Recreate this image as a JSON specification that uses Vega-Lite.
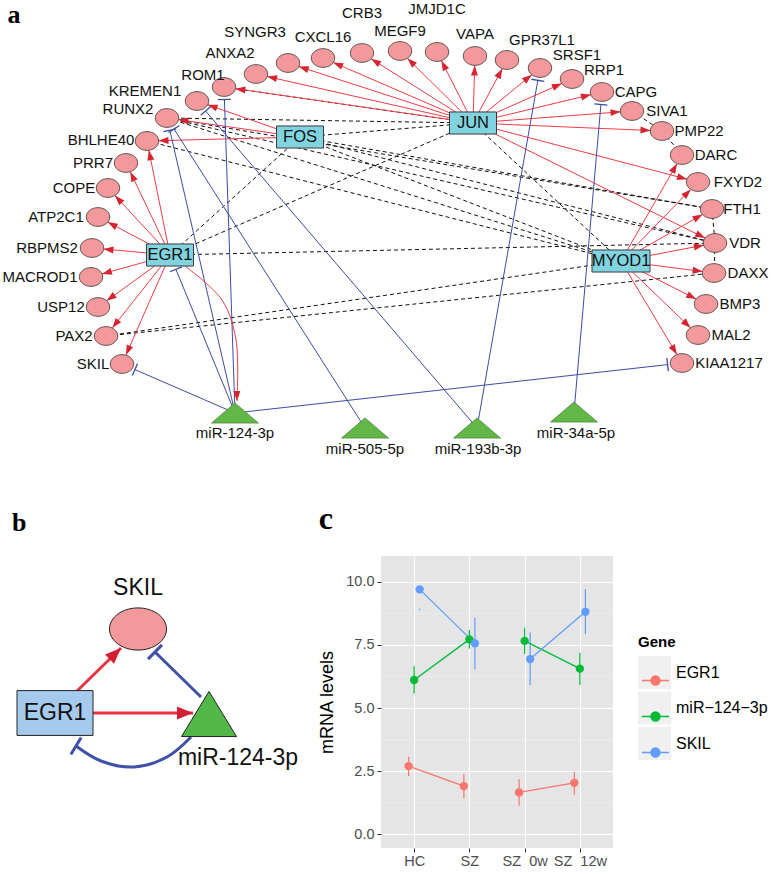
{
  "$schema": "https://vega.github.io/schema/vega-lite/v6.json",
  "padding": 0,
  "background": "white",
  "bounds": "flush",
  "spacing": 91,
  "resolve": {"scale": {"color": "independent", "fill": "independent", "stroke": "independent"}, "legend": {"color": "independent", "fill": "independent", "stroke": "independent"}},
  "config": {
    "view": {"stroke": null}
  },
  "datasets": {
    "nodes": [
      {"name":"KREMEN1","kind":"gene","x":197,"y":101,"lx":145,"ly":91},
      {"name":"ROM1","kind":"gene","x":224,"y":87,"lx":203,"ly":75},
      {"name":"ANXA2","kind":"gene","x":256,"y":74,"lx":230,"ly":53},
      {"name":"SYNGR3","kind":"gene","x":288,"y":63,"lx":255,"ly":32},
      {"name":"CXCL16","kind":"gene","x":323,"y":58,"lx":323,"ly":37},
      {"name":"CRB3","kind":"gene","x":362,"y":53,"lx":362,"ly":13},
      {"name":"MEGF9","kind":"gene","x":400,"y":51,"lx":400,"ly":31},
      {"name":"JMJD1C","kind":"gene","x":437,"y":52,"lx":437,"ly":9},
      {"name":"VAPA","kind":"gene","x":475,"y":56,"lx":475,"ly":34},
      {"name":"GPR37L1","kind":"gene","x":507,"y":60,"lx":542,"ly":40},
      {"name":"SRSF1","kind":"gene","x":540,"y":68,"lx":577,"ly":55},
      {"name":"RRP1","kind":"gene","x":572,"y":79,"lx":604,"ly":70},
      {"name":"CAPG","kind":"gene","x":602,"y":92,"lx":636,"ly":92},
      {"name":"SIVA1","kind":"gene","x":632,"y":111,"lx":667,"ly":111},
      {"name":"PMP22","kind":"gene","x":662,"y":131,"lx":699,"ly":131},
      {"name":"DARC","kind":"gene","x":682,"y":155,"lx":716,"ly":155},
      {"name":"FXYD2","kind":"gene","x":698,"y":182,"lx":738,"ly":182},
      {"name":"FTH1","kind":"gene","x":712,"y":209,"lx":742,"ly":209},
      {"name":"VDR","kind":"gene","x":715,"y":243,"lx":745,"ly":243},
      {"name":"DAXX","kind":"gene","x":714,"y":273,"lx":748,"ly":273},
      {"name":"BMP3","kind":"gene","x":706,"y":304,"lx":740,"ly":304},
      {"name":"MAL2","kind":"gene","x":698,"y":335,"lx":731,"ly":335},
      {"name":"KIAA1217","kind":"gene","x":682,"y":363,"lx":729,"ly":363},
      {"name":"RUNX2","kind":"gene","x":167,"y":118,"lx":128,"ly":109},
      {"name":"BHLHE40","kind":"gene","x":147,"y":141,"lx":101,"ly":140},
      {"name":"PRR7","kind":"gene","x":126,"y":163,"lx":93,"ly":163},
      {"name":"COPE","kind":"gene","x":108,"y":188,"lx":74,"ly":188},
      {"name":"ATP2C1","kind":"gene","x":98,"y":217,"lx":56,"ly":217},
      {"name":"RBPMS2","kind":"gene","x":92,"y":248,"lx":47,"ly":248},
      {"name":"MACROD1","kind":"gene","x":91,"y":277,"lx":40,"ly":277},
      {"name":"USP12","kind":"gene","x":98,"y":307,"lx":61,"ly":307},
      {"name":"PAX2","kind":"gene","x":106,"y":336,"lx":74,"ly":336},
      {"name":"SKIL","kind":"gene","x":122,"y":364,"lx":93,"ly":364},
      {"name":"JUN","kind":"tf","x":473,"y":123,"lx":473,"ly":123},
      {"name":"FOS","kind":"tf","x":300,"y":137,"lx":300,"ly":137},
      {"name":"EGR1","kind":"tf","x":170,"y":255,"lx":170,"ly":255},
      {"name":"MYOD1","kind":"tf","x":621,"y":261,"lx":621,"ly":261},
      {"name":"miR-124-3p","kind":"mirna","x":235,"y":413,"lx":235,"ly":433},
      {"name":"miR-505-5p","kind":"mirna","x":365,"y":428,"lx":365,"ly":449},
      {"name":"miR-193b-3p","kind":"mirna","x":477,"y":428,"lx":478,"ly":449},
      {"name":"miR-34a-5p","kind":"mirna","x":574,"y":412,"lx":576,"ly":433}
    ],
    "edges": [
      {"source":"JUN","target":"ROM1","type":"activation"},
      {"source":"JUN","target":"ANXA2","type":"activation"},
      {"source":"JUN","target":"SYNGR3","type":"activation"},
      {"source":"JUN","target":"CXCL16","type":"activation"},
      {"source":"JUN","target":"CRB3","type":"activation"},
      {"source":"JUN","target":"MEGF9","type":"activation"},
      {"source":"JUN","target":"JMJD1C","type":"activation"},
      {"source":"JUN","target":"VAPA","type":"activation"},
      {"source":"JUN","target":"GPR37L1","type":"activation"},
      {"source":"JUN","target":"SRSF1","type":"activation"},
      {"source":"JUN","target":"RRP1","type":"activation"},
      {"source":"JUN","target":"CAPG","type":"activation"},
      {"source":"JUN","target":"SIVA1","type":"activation"},
      {"source":"JUN","target":"PMP22","type":"activation"},
      {"source":"JUN","target":"FXYD2","type":"activation"},
      {"source":"JUN","target":"VDR","type":"activation"},
      {"source":"FOS","target":"KREMEN1","type":"activation"},
      {"source":"FOS","target":"RUNX2","type":"activation"},
      {"source":"FOS","target":"BHLHE40","type":"activation"},
      {"source":"EGR1","target":"BHLHE40","type":"activation"},
      {"source":"EGR1","target":"PRR7","type":"activation"},
      {"source":"EGR1","target":"COPE","type":"activation"},
      {"source":"EGR1","target":"ATP2C1","type":"activation"},
      {"source":"EGR1","target":"RBPMS2","type":"activation"},
      {"source":"EGR1","target":"MACROD1","type":"activation"},
      {"source":"EGR1","target":"USP12","type":"activation"},
      {"source":"EGR1","target":"PAX2","type":"activation"},
      {"source":"EGR1","target":"SKIL","type":"activation"},
      {"source":"MYOD1","target":"DARC","type":"activation"},
      {"source":"MYOD1","target":"FXYD2","type":"activation"},
      {"source":"MYOD1","target":"FTH1","type":"activation"},
      {"source":"MYOD1","target":"VDR","type":"activation"},
      {"source":"MYOD1","target":"DAXX","type":"activation"},
      {"source":"MYOD1","target":"BMP3","type":"activation"},
      {"source":"MYOD1","target":"MAL2","type":"activation"},
      {"source":"MYOD1","target":"KIAA1217","type":"activation"},
      {"source":"miR-124-3p","target":"SKIL","type":"inhibition"},
      {"source":"miR-124-3p","target":"EGR1","type":"inhibition"},
      {"source":"miR-124-3p","target":"RUNX2","type":"inhibition"},
      {"source":"miR-124-3p","target":"ROM1","type":"inhibition"},
      {"source":"miR-124-3p","target":"KIAA1217","type":"inhibition"},
      {"source":"miR-505-5p","target":"RUNX2","type":"inhibition"},
      {"source":"miR-193b-3p","target":"KREMEN1","type":"inhibition"},
      {"source":"miR-193b-3p","target":"SRSF1","type":"inhibition"},
      {"source":"miR-34a-5p","target":"CAPG","type":"inhibition"},
      {"source":"RUNX2","target":"JUN","type":"interaction"},
      {"source":"RUNX2","target":"FTH1","type":"interaction"},
      {"source":"RUNX2","target":"VDR","type":"interaction"},
      {"source":"RUNX2","target":"MYOD1","type":"interaction"},
      {"source":"BHLHE40","target":"MYOD1","type":"interaction"},
      {"source":"ROM1","target":"JUN","type":"interaction"},
      {"source":"FOS","target":"JUN","type":"interaction"},
      {"source":"FOS","target":"FTH1","type":"interaction"},
      {"source":"FOS","target":"VDR","type":"interaction"},
      {"source":"FOS","target":"MYOD1","type":"interaction"},
      {"source":"EGR1","target":"FOS","type":"interaction"},
      {"source":"EGR1","target":"JUN","type":"interaction"},
      {"source":"EGR1","target":"VDR","type":"interaction"},
      {"source":"PAX2","target":"MYOD1","type":"interaction"},
      {"source":"PAX2","target":"DAXX","type":"interaction"},
      {"source":"JUN","target":"MYOD1","type":"interaction"},
      {"source":"FTH1","target":"VDR","type":"interaction"},
      {"source":"VDR","target":"DAXX","type":"interaction"},
      {"source":"SIVA1","target":"PMP22","type":"interaction"},
      {"source":"PMP22","target":"DARC","type":"interaction"}
    ],
    "curveA": [
      {"edge":"EGR1-miR-124-3p","step":1,"x":185,"y":266},
      {"edge":"EGR1-miR-124-3p","step":2,"x":222,"y":300},
      {"edge":"EGR1-miR-124-3p","step":3,"x":236,"y":340},
      {"edge":"EGR1-miR-124-3p","step":4,"x":237,"y":401}
    ],
    "panelA": [{"panel":"a","x":14,"y":23}],
    "nodesB": [
      {"name":"SKIL","kind":"gene","x":138,"y":629,"lx":138,"ly":588},
      {"name":"EGR1","kind":"tf","x":55,"y":713,"lx":55,"ly":713},
      {"name":"miR-124-3p","kind":"mirna","x":209,"y":714,"lx":238,"ly":758}
    ],
    "linesB": [
      {"edge":"EGR1-SKIL","type":"activation","step":1,"x":77,"y":691},
      {"edge":"EGR1-SKIL","type":"activation","step":2,"x":121,"y":648},
      {"edge":"EGR1-miR","type":"activation","step":1,"x":93,"y":713},
      {"edge":"EGR1-miR","type":"activation","step":2,"x":193,"y":713},
      {"edge":"miR-SKIL","type":"inhibition","step":1,"x":201,"y":697},
      {"edge":"miR-SKIL","type":"inhibition","step":2,"x":155,"y":652},
      {"edge":"miR-EGR1","type":"inhibition","step":1,"x":191,"y":737},
      {"edge":"miR-EGR1","type":"inhibition","step":2,"x":167,"y":757},
      {"edge":"miR-EGR1","type":"inhibition","step":3,"x":134,"y":767},
      {"edge":"miR-EGR1","type":"inhibition","step":4,"x":101,"y":761},
      {"edge":"miR-EGR1","type":"inhibition","step":5,"x":76,"y":746}
    ],
    "expr": [
      {"group":"HC","gene":"EGR1","study":"HC vs SZ","mean":2.70,"lo":2.31,"hi":3.07},
      {"group":"SZ","gene":"EGR1","study":"HC vs SZ","mean":1.91,"lo":1.42,"hi":2.39},
      {"group":"SZ_0w","gene":"EGR1","study":"SZ treatment","mean":1.66,"lo":1.13,"hi":2.18},
      {"group":"SZ_12w","gene":"EGR1","study":"SZ treatment","mean":2.04,"lo":1.57,"hi":2.48},
      {"group":"HC","gene":"miR-124-3p","study":"HC vs SZ","mean":6.11,"lo":5.58,"hi":6.66},
      {"group":"SZ","gene":"miR-124-3p","study":"HC vs SZ","mean":7.72,"lo":7.36,"hi":8.09},
      {"group":"SZ_0w","gene":"miR-124-3p","study":"SZ treatment","mean":7.66,"lo":7.14,"hi":8.18},
      {"group":"SZ_12w","gene":"miR-124-3p","study":"SZ treatment","mean":6.56,"lo":5.91,"hi":7.19},
      {"group":"HC","gene":"SKIL","study":"HC vs SZ","mean":9.70,"lo":8.87,"hi":8.93},
      {"group":"SZ","gene":"SKIL","study":"HC vs SZ","mean":7.56,"lo":6.54,"hi":8.59},
      {"group":"SZ_0w","gene":"SKIL","study":"SZ treatment","mean":6.94,"lo":5.91,"hi":7.99},
      {"group":"SZ_12w","gene":"SKIL","study":"SZ treatment","mean":8.81,"lo":7.93,"hi":9.70}
    ]
  },
  "vconcat": [
    {
      "width": 771,
      "height": 465,
      "layer": [
        {
          "data": {"name": "edges"},
          "transform": [
            {"filter": "datum.type == 'interaction'"},
            {"lookup": "source", "from": {"data": {"name": "nodes"}, "key": "name", "fields": ["x", "y"]}, "as": ["sx", "sy"]},
            {"lookup": "target", "from": {"data": {"name": "nodes"}, "key": "name", "fields": ["x", "y"]}, "as": ["tx", "ty"]}
          ],
          "mark": {"type": "rule", "color": "#111111", "strokeWidth": 1, "strokeDash": [4, 3]},
          "encoding": {
            "x": {"field": "sx", "type": "quantitative", "scale": {"domain": [0, 771], "nice": false, "zero": false}, "axis": null},
            "y": {"field": "sy", "type": "quantitative", "scale": {"domain": [0, 465], "nice": false, "zero": false, "reverse": true}, "axis": null},
            "x2": {"field": "tx"},
            "y2": {"field": "ty"}
          }
        },
        {
          "data": {"name": "edges"},
          "transform": [
            {"filter": "datum.type != 'interaction'"},
            {"lookup": "source", "from": {"data": {"name": "nodes"}, "key": "name", "fields": ["x", "y", "kind"]}, "as": ["sx", "sy", "skind"]},
            {"lookup": "target", "from": {"data": {"name": "nodes"}, "key": "name", "fields": ["x", "y", "kind"]}, "as": ["tx", "ty", "tkind"]},
            {"calculate": "datum.tx - datum.sx", "as": "dx"},
            {"calculate": "datum.ty - datum.sy", "as": "dy"},
            {"calculate": "sqrt(datum.dx * datum.dx + datum.dy * datum.dy)", "as": "len"},
            {"calculate": "datum.dx / datum.len", "as": "ux"},
            {"calculate": "datum.dy / datum.len", "as": "uy"},
            {"calculate": "datum.tkind == 'gene' ? 1 / sqrt(pow(datum.ux / 11.5, 2) + pow(datum.uy / 9.5, 2)) : min(23.5 / max(abs(datum.ux), 0.001), 11.5 / max(abs(datum.uy), 0.001))", "as": "r"},
            {"calculate": "datum.type == 'activation' ? datum.tx - datum.ux * datum.r : datum.tx - datum.ux * (datum.r + 3)", "as": "ex"},
            {"calculate": "datum.type == 'activation' ? datum.ty - datum.uy * datum.r : datum.ty - datum.uy * (datum.r + 3)", "as": "ey"}
          ],
          "mark": {"type": "rule", "strokeWidth": 1},
          "encoding": {
            "x": {"field": "sx", "type": "quantitative", "scale": {"domain": [0, 771], "nice": false, "zero": false}, "axis": null},
            "y": {"field": "sy", "type": "quantitative", "scale": {"domain": [0, 465], "nice": false, "zero": false, "reverse": true}, "axis": null},
            "x2": {"field": "ex"},
            "y2": {"field": "ey"},
            "color": {"condition": {"test": "datum.type == 'activation'", "value": "#EF3B46"}, "value": "#3B4CA8"}
          }
        },
        {
          "data": {"name": "curveA"},
          "mark": {"type": "line", "color": "#EF3B46", "strokeWidth": 1, "interpolate": "catmull-rom"},
          "encoding": {
            "x": {"field": "x", "type": "quantitative", "scale": {"domain": [0, 771], "nice": false, "zero": false}, "axis": null},
            "y": {"field": "y", "type": "quantitative", "scale": {"domain": [0, 465], "nice": false, "zero": false, "reverse": true}, "axis": null},
            "order": {"field": "step"},
            "detail": {"field": "edge"}
          }
        },
        {
          "data": {"name": "edges"},
          "transform": [
            {"filter": "datum.type != 'interaction'"},
            {"lookup": "source", "from": {"data": {"name": "nodes"}, "key": "name", "fields": ["x", "y"]}, "as": ["sx", "sy"]},
            {"lookup": "target", "from": {"data": {"name": "nodes"}, "key": "name", "fields": ["x", "y", "kind"]}, "as": ["tx", "ty", "tkind"]},
            {"calculate": "datum.tx - datum.sx", "as": "dx"},
            {"calculate": "datum.ty - datum.sy", "as": "dy"},
            {"calculate": "sqrt(datum.dx * datum.dx + datum.dy * datum.dy)", "as": "len"},
            {"calculate": "datum.dx / datum.len", "as": "ux"},
            {"calculate": "datum.dy / datum.len", "as": "uy"},
            {"calculate": "datum.tkind == 'gene' ? 1 / sqrt(pow(datum.ux / 11.5, 2) + pow(datum.uy / 9.5, 2)) : min(23.5 / max(abs(datum.ux), 0.001), 11.5 / max(abs(datum.uy), 0.001))", "as": "r"},
            {"calculate": "datum.type == 'activation' ? datum.tx - datum.ux * (datum.r + 5) : datum.tx - datum.ux * (datum.r + 3)", "as": "mx"},
            {"calculate": "datum.type == 'activation' ? datum.ty - datum.uy * (datum.r + 5) : datum.ty - datum.uy * (datum.r + 3)", "as": "my"},
            {"calculate": "atan2(datum.ux, -datum.uy) * 180 / PI", "as": "angle"}
          ],
          "mark": {"type": "point", "opacity": 1, "strokeWidth": 1.3},
          "encoding": {
            "x": {"field": "mx", "type": "quantitative", "scale": {"domain": [0, 771], "nice": false, "zero": false}, "axis": null},
            "y": {"field": "my", "type": "quantitative", "scale": {"domain": [0, 465], "nice": false, "zero": false, "reverse": true}, "axis": null},
            "angle": {"field": "angle", "type": "quantitative", "scale": null},
            "shape": {"condition": {"test": "datum.type == 'activation'", "value": "M0,-1L0.7,1L-0.7,1Z"}, "value": "M-1,0L1,0"},
            "size": {"condition": {"test": "datum.type == 'activation'", "value": 100}, "value": 169},
            "fill": {"condition": {"test": "datum.type == 'activation'", "value": "#D62430"}, "value": "transparent"},
            "stroke": {"condition": {"test": "datum.type == 'activation'", "value": "transparent"}, "value": "#3B4CA8"}
          }
        },
        {
          "data": {"name": "curveA"},
          "transform": [
            {"window": [{"op": "lag", "field": "x", "as": "px"}, {"op": "lag", "field": "y", "as": "py"}], "sort": [{"field": "step"}], "groupby": ["edge"]},
            {"joinaggregate": [{"op": "max", "field": "step", "as": "last"}], "groupby": ["edge"]},
            {"filter": "datum.step == datum.last"},
            {"calculate": "sqrt(pow(datum.x - datum.px, 2) + pow(datum.y - datum.py, 2))", "as": "len"},
            {"calculate": "(datum.x - datum.px) / datum.len", "as": "ux"},
            {"calculate": "(datum.y - datum.py) / datum.len", "as": "uy"},
            {"calculate": "datum.x - 5 * datum.ux", "as": "mx"},
            {"calculate": "datum.y - 5 * datum.uy", "as": "my"},
            {"calculate": "atan2(datum.ux, -datum.uy) * 180 / PI", "as": "angle"}
          ],
          "mark": {"type": "point", "shape": "M0,-1L0.7,1L-0.7,1Z", "size": 100, "filled": true, "color": "#D62430", "opacity": 1},
          "encoding": {
            "x": {"field": "mx", "type": "quantitative", "scale": {"domain": [0, 771], "nice": false, "zero": false}, "axis": null},
            "y": {"field": "my", "type": "quantitative", "scale": {"domain": [0, 465], "nice": false, "zero": false, "reverse": true}, "axis": null},
            "angle": {"field": "angle", "type": "quantitative", "scale": null}
          }
        },
        {
          "data": {"name": "nodes"},
          "transform": [{"filter": "datum.kind == 'gene'"}],
          "mark": {"type": "point", "shape": "M-1,0A1,0.8,0,1,1,1,0A1,0.8,0,1,1,-1,0Z", "size": 550, "filled": true, "fill": "#F4999B", "stroke": "#3A3A3A", "strokeWidth": 0.8, "opacity": 1},
          "encoding": {
            "x": {"field": "x", "type": "quantitative", "scale": {"domain": [0, 771], "nice": false, "zero": false}, "axis": null},
            "y": {"field": "y", "type": "quantitative", "scale": {"domain": [0, 465], "nice": false, "zero": false, "reverse": true}, "axis": null}
          }
        },
        {
          "data": {"name": "nodes"},
          "transform": [{"filter": "datum.kind == 'tf'"}],
          "mark": {"type": "point", "filled": true, "fill": "#80D3DF", "stroke": "#3A3A3A", "strokeWidth": 1, "opacity": 1},
          "encoding": {
            "x": {"field": "x", "type": "quantitative", "scale": {"domain": [0, 771], "nice": false, "zero": false}, "axis": null},
            "y": {"field": "y", "type": "quantitative", "scale": {"domain": [0, 465], "nice": false, "zero": false, "reverse": true}, "axis": null},
            "shape": {"condition": {"test": "datum.name == 'MYOD1'", "value": "M-1,-0.38H1V0.38H-1Z"}, "value": "M-1,-0.47H1V0.47H-1Z"},
            "size": {"condition": {"test": "datum.name == 'MYOD1'", "value": 3364}, "value": 2209}
          }
        },
        {
          "data": {"name": "nodes"},
          "transform": [{"filter": "datum.kind == 'mirna'"}],
          "mark": {"type": "point", "shape": "M0,-0.43L1,0.43L-1,0.43Z", "size": 2209, "filled": true, "fill": "#62B847", "stroke": "#3C6B2C", "strokeWidth": 0.6, "opacity": 1},
          "encoding": {
            "x": {"field": "x", "type": "quantitative", "scale": {"domain": [0, 771], "nice": false, "zero": false}, "axis": null},
            "y": {"field": "y", "type": "quantitative", "scale": {"domain": [0, 465], "nice": false, "zero": false, "reverse": true}, "axis": null}
          }
        },
        {
          "data": {"name": "nodes"},
          "mark": {"type": "text", "font": "Liberation Sans", "align": "center", "baseline": "middle", "color": "#111111"},
          "encoding": {
            "x": {"field": "lx", "type": "quantitative", "scale": {"domain": [0, 771], "nice": false, "zero": false}, "axis": null},
            "y": {"field": "ly", "type": "quantitative", "scale": {"domain": [0, 465], "nice": false, "zero": false, "reverse": true}, "axis": null},
            "text": {"field": "name"},
            "size": {"condition": {"test": "datum.kind == 'tf'", "value": 16.5}, "value": 15}
          }
        },
        {
          "data": {"name": "panelA"},
          "mark": {"type": "text", "font": "Liberation Serif", "fontWeight": "bold", "fontSize": 26, "align": "center", "baseline": "alphabetic", "color": "#000000"},
          "encoding": {
            "x": {"field": "x", "type": "quantitative", "scale": {"domain": [0, 771], "nice": false, "zero": false}, "axis": null},
            "y": {"field": "y", "type": "quantitative", "scale": {"domain": [0, 465], "nice": false, "zero": false, "reverse": true}, "axis": null},
            "text": {"field": "panel"}
          }
        }
      ]
    },
    {
      "hconcat": [
        {
          "width": 300,
          "height": 292,
          "title": {"text": "b", "anchor": "start", "frame": "group", "dx": 12, "font": "Liberation Serif", "fontWeight": "bold", "fontSize": 26, "offset": 20, "color": "#000000"},
          "layer": [
            {
              "data": {"name": "linesB"},
              "mark": {"type": "line", "strokeWidth": 3, "interpolate": "catmull-rom"},
              "encoding": {
                "x": {"field": "x", "type": "quantitative", "scale": {"domain": [0, 300], "nice": false, "zero": false}, "axis": null},
                "y": {"field": "y", "type": "quantitative", "scale": {"domain": [556, 848], "nice": false, "zero": false, "reverse": true}, "axis": null},
                "order": {"field": "step"},
                "detail": {"field": "edge"},
                "color": {"condition": {"test": "datum.type == 'activation'", "value": "#EA3441"}, "value": "#3F51A9"}
              }
            },
            {
              "data": {"name": "linesB"},
              "transform": [
                {"window": [{"op": "lag", "field": "x", "as": "px"}, {"op": "lag", "field": "y", "as": "py"}], "sort": [{"field": "step"}], "groupby": ["edge"]},
                {"joinaggregate": [{"op": "max", "field": "step", "as": "last"}], "groupby": ["edge"]},
                {"filter": "datum.step == datum.last"},
                {"calculate": "sqrt(pow(datum.x - datum.px, 2) + pow(datum.y - datum.py, 2))", "as": "len"},
                {"calculate": "(datum.x - datum.px) / datum.len", "as": "ux"},
                {"calculate": "(datum.y - datum.py) / datum.len", "as": "uy"},
                {"calculate": "datum.type == 'activation' ? datum.x - 8 * datum.ux : datum.x", "as": "mx"},
                {"calculate": "datum.type == 'activation' ? datum.y - 8 * datum.uy : datum.y", "as": "my"},
                {"calculate": "atan2(datum.ux, -datum.uy) * 180 / PI", "as": "angle"}
              ],
              "mark": {"type": "point", "opacity": 1, "strokeWidth": 3},
              "encoding": {
                "x": {"field": "mx", "type": "quantitative", "scale": {"domain": [0, 300], "nice": false, "zero": false}, "axis": null},
                "y": {"field": "my", "type": "quantitative", "scale": {"domain": [556, 848], "nice": false, "zero": false, "reverse": true}, "axis": null},
                "angle": {"field": "angle", "type": "quantitative", "scale": null},
                "shape": {"condition": {"test": "datum.type == 'activation'", "value": "M0,-1L0.8,1L-0.8,1Z"}, "value": "M-1,0L1,0"},
                "size": {"condition": {"test": "datum.type == 'activation'", "value": 256}, "value": 400},
                "fill": {"condition": {"test": "datum.type == 'activation'", "value": "#D21F32"}, "value": "transparent"},
                "stroke": {"condition": {"test": "datum.type == 'activation'", "value": "transparent"}, "value": "#3F51A9"}
              }
            },
            {
              "data": {"name": "nodesB"},
              "transform": [{"filter": "datum.kind == 'gene'"}],
              "mark": {"type": "point", "shape": "M-1,0A1,0.74,0,1,1,1,0A1,0.74,0,1,1,-1,0Z", "size": 3249, "filled": true, "fill": "#F4999B", "stroke": "#222222", "strokeWidth": 1, "opacity": 1},
              "encoding": {
                "x": {"field": "x", "type": "quantitative", "scale": {"domain": [0, 300], "nice": false, "zero": false}, "axis": null},
                "y": {"field": "y", "type": "quantitative", "scale": {"domain": [556, 848], "nice": false, "zero": false, "reverse": true}, "axis": null}
              }
            },
            {
              "data": {"name": "nodesB"},
              "transform": [{"filter": "datum.kind == 'tf'"}],
              "mark": {"type": "point", "shape": "M-1,-0.59H1V0.59H-1Z", "size": 5776, "filled": true, "fill": "#A6CAEE", "stroke": "#222222", "strokeWidth": 1, "opacity": 1},
              "encoding": {
                "x": {"field": "x", "type": "quantitative", "scale": {"domain": [0, 300], "nice": false, "zero": false}, "axis": null},
                "y": {"field": "y", "type": "quantitative", "scale": {"domain": [556, 848], "nice": false, "zero": false, "reverse": true}, "axis": null}
              }
            },
            {
              "data": {"name": "nodesB"},
              "transform": [{"filter": "datum.kind == 'mirna'"}],
              "mark": {"type": "point", "shape": "M0,-0.82L1,0.82L-1,0.82Z", "size": 3025, "filled": true, "fill": "#53B848", "stroke": "#222222", "strokeWidth": 1, "opacity": 1},
              "encoding": {
                "x": {"field": "x", "type": "quantitative", "scale": {"domain": [0, 300], "nice": false, "zero": false}, "axis": null},
                "y": {"field": "y", "type": "quantitative", "scale": {"domain": [556, 848], "nice": false, "zero": false, "reverse": true}, "axis": null}
              }
            },
            {
              "data": {"name": "nodesB"},
              "mark": {"type": "text", "font": "Liberation Sans", "fontSize": 23, "align": "center", "baseline": "middle", "color": "#111111"},
              "encoding": {
                "x": {"field": "lx", "type": "quantitative", "scale": {"domain": [0, 300], "nice": false, "zero": false}, "axis": null},
                "y": {"field": "ly", "type": "quantitative", "scale": {"domain": [556, 848], "nice": false, "zero": false, "reverse": true}, "axis": null},
                "text": {"field": "name"}
              }
            }
          ]
        },
        {
          "width": 232,
          "height": 292,
          "view": {"fill": "#E5E5E5", "stroke": null},
          "title": {"text": "c", "anchor": "start", "frame": "bounds", "font": "Liberation Serif", "fontWeight": "bold", "fontSize": 32, "offset": 20, "color": "#000000"},
          "layer": [
            {
              "data": {"values": [{"minor": 1.25}, {"minor": 3.75}, {"minor": 6.25}, {"minor": 8.75}]},
              "mark": {"type": "rule", "color": "#F2F2F2", "strokeWidth": 0.6},
              "encoding": {
                "y": {"field": "minor", "type": "quantitative", "scale": {"domain": [-0.54, 11.02], "nice": false, "zero": false}, "axis": {"values": [0, 2.5, 5, 7.5, 10], "format": ".1f", "title": "mRNA levels", "titlePadding": 9, "labelPadding": 3, "grid": true, "gridColor": "#FFFFFF", "gridWidth": 1.1, "domain": false, "tickColor": "#333333", "tickSize": 4, "labelFont": "Liberation Sans", "labelFontSize": 14.5, "labelColor": "#4D4D4D", "titleFont": "Liberation Sans", "titleFontSize": 18, "titleFontWeight": "normal", "titleColor": "#000000"}}
              }
            },
            {
              "data": {"name": "expr"},
              "transform": [{"calculate": "indexof(['HC','SZ','SZ_0w','SZ_12w'], datum.group) + 1 + (datum.gene == 'EGR1' ? -0.1 : datum.gene == 'SKIL' ? 0.1 : 0)", "as": "xpos"}],
              "mark": {"type": "point", "filled": true, "size": 70, "opacity": 0},
              "encoding": {
                "x": {"field": "xpos", "type": "quantitative", "scale": {"domain": [0.4, 4.6], "nice": false, "zero": false}, "axis": {"values": [1, 2, 3, 4], "labelExpr": "['HC','SZ','SZ_0w','SZ_12w'][datum.value - 1]", "title": null, "labelOverlap": false, "labelPadding": 2, "grid": true, "gridColor": "#FFFFFF", "gridWidth": 1.1, "domain": false, "tickColor": "#333333", "tickSize": 4, "labelFont": "Liberation Sans", "labelFontSize": 14.5, "labelColor": "#4D4D4D"}},
                "y": {"field": "mean", "type": "quantitative", "scale": {"domain": [-0.54, 11.02], "nice": false, "zero": false}, "axis": {"values": [0, 2.5, 5, 7.5, 10], "format": ".1f", "title": "mRNA levels", "titlePadding": 9, "labelPadding": 3, "grid": true, "gridColor": "#FFFFFF", "gridWidth": 1.1, "domain": false, "tickColor": "#333333", "tickSize": 4, "labelFont": "Liberation Sans", "labelFontSize": 14.5, "labelColor": "#4D4D4D", "titleFont": "Liberation Sans", "titleFontSize": 18, "titleFontWeight": "normal", "titleColor": "#000000"}},
                "color": {
                  "field": "gene", "type": "nominal", "sort": ["EGR1", "miR-124-3p", "SKIL"],
                  "scale": {"range": ["#F0F0F0", "#F0F0F0", "#F0F0F0"]},
                  "legend": {
                    "title": "Gene", "orient": "none", "legendX": 257, "legendY": 79,
                    "titleFont": "Liberation Sans", "titleFontSize": 15, "titleFontWeight": "bold", "titleColor": "#000000", "titlePadding": 6,
                    "labelFont": "Liberation Sans", "labelFontSize": 16, "labelColor": "#000000", "labelOffset": 5,
                    "symbolType": "square", "symbolSize": 1089, "symbolStrokeWidth": 0, "symbolOpacity": 1, "rowPadding": 2.5,
                    "labelExpr": "replace(replace(datum.label, '-', '\u2212'), '-', '\u2212')"
                  }
                }
              }
            },
            {
              "data": {"name": "expr"},
              "transform": [{"calculate": "indexof(['HC','SZ','SZ_0w','SZ_12w'], datum.group) + 1 + (datum.gene == 'EGR1' ? -0.1 : datum.gene == 'SKIL' ? 0.1 : 0)", "as": "xpos"}],
              "mark": {"type": "rule", "strokeWidth": 1.2},
              "encoding": {
                "x": {"field": "xpos", "type": "quantitative", "scale": {"domain": [0.4, 4.6], "nice": false, "zero": false}, "axis": {"values": [1, 2, 3, 4], "labelExpr": "['HC','SZ','SZ_0w','SZ_12w'][datum.value - 1]", "title": null, "labelOverlap": false, "labelPadding": 2, "grid": true, "gridColor": "#FFFFFF", "gridWidth": 1.1, "domain": false, "tickColor": "#333333", "tickSize": 4, "labelFont": "Liberation Sans", "labelFontSize": 14.5, "labelColor": "#4D4D4D"}},
                "y": {"field": "lo", "type": "quantitative", "scale": {"domain": [-0.54, 11.02], "nice": false, "zero": false}, "axis": {"values": [0, 2.5, 5, 7.5, 10], "format": ".1f", "title": "mRNA levels", "titlePadding": 9, "labelPadding": 3, "grid": true, "gridColor": "#FFFFFF", "gridWidth": 1.1, "domain": false, "tickColor": "#333333", "tickSize": 4, "labelFont": "Liberation Sans", "labelFontSize": 14.5, "labelColor": "#4D4D4D", "titleFont": "Liberation Sans", "titleFontSize": 18, "titleFontWeight": "normal", "titleColor": "#000000"}},
                "y2": {"field": "hi"},
                "stroke": {"field": "gene", "type": "nominal", "scale": {"domain": ["EGR1", "miR-124-3p", "SKIL"], "range": ["#F8766D", "#00BA38", "#619CFF"]},
                  "legend": {"title": null, "orient": "none", "legendX": 260, "legendY": 110, "labelExpr": "''", "labelFontSize": 16, "symbolType": "M-1,0H1M-0.33,0A0.33,0.33,0,1,1,0.33,0A0.33,0.33,0,1,1,-0.33,0Z", "symbolSize": 729, "symbolStrokeWidth": 1.5, "symbolOpacity": 1, "rowPadding": 13}}
              }
            },
            {
              "data": {"name": "expr"},
              "transform": [{"calculate": "indexof(['HC','SZ','SZ_0w','SZ_12w'], datum.group) + 1 + (datum.gene == 'EGR1' ? -0.1 : datum.gene == 'SKIL' ? 0.1 : 0)", "as": "xpos"}],
              "mark": {"type": "line", "strokeWidth": 1.3},
              "encoding": {
                "x": {"field": "xpos", "type": "quantitative", "scale": {"domain": [0.4, 4.6], "nice": false, "zero": false}, "axis": {"values": [1, 2, 3, 4], "labelExpr": "['HC','SZ','SZ_0w','SZ_12w'][datum.value - 1]", "title": null, "labelOverlap": false, "labelPadding": 2, "grid": true, "gridColor": "#FFFFFF", "gridWidth": 1.1, "domain": false, "tickColor": "#333333", "tickSize": 4, "labelFont": "Liberation Sans", "labelFontSize": 14.5, "labelColor": "#4D4D4D"}},
                "y": {"field": "mean", "type": "quantitative", "scale": {"domain": [-0.54, 11.02], "nice": false, "zero": false}, "axis": {"values": [0, 2.5, 5, 7.5, 10], "format": ".1f", "title": "mRNA levels", "titlePadding": 9, "labelPadding": 3, "grid": true, "gridColor": "#FFFFFF", "gridWidth": 1.1, "domain": false, "tickColor": "#333333", "tickSize": 4, "labelFont": "Liberation Sans", "labelFontSize": 14.5, "labelColor": "#4D4D4D", "titleFont": "Liberation Sans", "titleFontSize": 18, "titleFontWeight": "normal", "titleColor": "#000000"}},
                "stroke": {"field": "gene", "type": "nominal", "scale": {"domain": ["EGR1", "miR-124-3p", "SKIL"], "range": ["#F8766D", "#00BA38", "#619CFF"]},
                  "legend": {"title": null, "orient": "none", "legendX": 260, "legendY": 110, "labelExpr": "''", "labelFontSize": 16, "symbolType": "M-1,0H1M-0.33,0A0.33,0.33,0,1,1,0.33,0A0.33,0.33,0,1,1,-0.33,0Z", "symbolSize": 729, "symbolStrokeWidth": 1.5, "symbolOpacity": 1, "rowPadding": 13}},
                "detail": {"field": "study"}
              }
            },
            {
              "data": {"name": "expr"},
              "transform": [{"calculate": "indexof(['HC','SZ','SZ_0w','SZ_12w'], datum.group) + 1 + (datum.gene == 'EGR1' ? -0.1 : datum.gene == 'SKIL' ? 0.1 : 0)", "as": "xpos"}],
              "mark": {"type": "point", "filled": true, "size": 70, "opacity": 1},
              "encoding": {
                "x": {"field": "xpos", "type": "quantitative", "scale": {"domain": [0.4, 4.6], "nice": false, "zero": false}, "axis": {"values": [1, 2, 3, 4], "labelExpr": "['HC','SZ','SZ_0w','SZ_12w'][datum.value - 1]", "title": null, "labelOverlap": false, "labelPadding": 2, "grid": true, "gridColor": "#FFFFFF", "gridWidth": 1.1, "domain": false, "tickColor": "#333333", "tickSize": 4, "labelFont": "Liberation Sans", "labelFontSize": 14.5, "labelColor": "#4D4D4D"}},
                "y": {"field": "mean", "type": "quantitative", "scale": {"domain": [-0.54, 11.02], "nice": false, "zero": false}, "axis": {"values": [0, 2.5, 5, 7.5, 10], "format": ".1f", "title": "mRNA levels", "titlePadding": 9, "labelPadding": 3, "grid": true, "gridColor": "#FFFFFF", "gridWidth": 1.1, "domain": false, "tickColor": "#333333", "tickSize": 4, "labelFont": "Liberation Sans", "labelFontSize": 14.5, "labelColor": "#4D4D4D", "titleFont": "Liberation Sans", "titleFontSize": 18, "titleFontWeight": "normal", "titleColor": "#000000"}},
                "fill": {"field": "gene", "type": "nominal", "scale": {"domain": ["EGR1", "miR-124-3p", "SKIL"], "range": ["#F8766D", "#00BA38", "#619CFF"]},
                  "legend": {"title": null, "orient": "none", "legendX": 260, "legendY": 110, "labelExpr": "''", "labelFontSize": 16, "symbolType": "M-1,0H1M-0.33,0A0.33,0.33,0,1,1,0.33,0A0.33,0.33,0,1,1,-0.33,0Z", "symbolSize": 729, "symbolStrokeWidth": 1.5, "symbolOpacity": 1, "rowPadding": 13}}
              }
            }
          ]
        }
      ],
      "bounds": "flush",
      "spacing": 81,
      "resolve": {"scale": {"color": "independent", "fill": "independent", "stroke": "independent"}, "legend": {"color": "independent", "fill": "independent", "stroke": "independent"}}
    }
  ]
}
